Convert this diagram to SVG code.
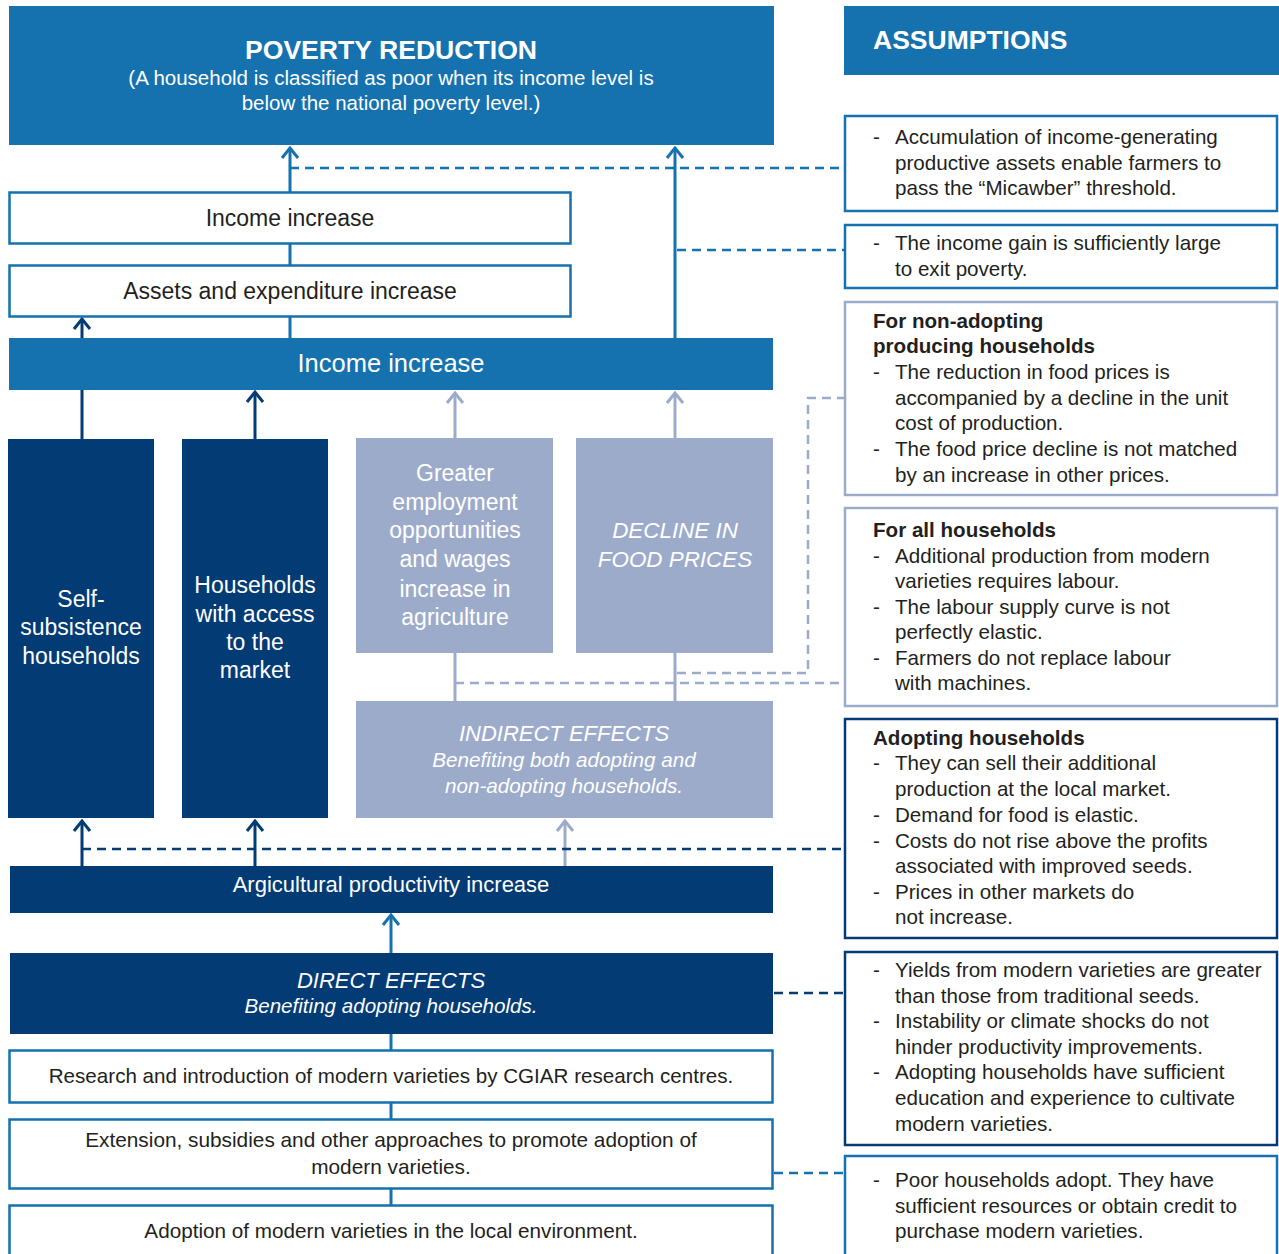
<svg xmlns="http://www.w3.org/2000/svg" width="1279" height="1254" viewBox="0 0 1279 1254">
<defs>
<style>
text{font-family:"Liberation Sans",Arial,sans-serif;}
.c{text-anchor:middle;}
.w{fill:#ffffff;}
.d{fill:#231f20;}
.it{font-style:italic;}
.b{font-weight:bold;}
.mb{fill:#1572ae;}
.nv{fill:#033b74;}
.lt{fill:#9dabcb;}
.wb{fill:#ffffff;stroke:#1572ae;stroke-width:2.5;}
.as{font-size:20.6px;fill:#231f20;}
.ln{fill:none;stroke-width:3;}
.dash{fill:none;stroke-width:2.5;stroke-dasharray:9 6;}
.smb{stroke:#1572ae;}
.snv{stroke:#033b74;}
.slt{stroke:#9dabcb;}
</style>
<marker id="amb" viewBox="-12 -10 14 20" refX="0" refY="0" markerWidth="14" markerHeight="20" markerUnits="userSpaceOnUse" orient="auto"><path d="M-10,-8 L0,0 L-10,8" fill="none" stroke="#1572ae" stroke-width="3"/></marker>
<marker id="anv" viewBox="-12 -10 14 20" refX="0" refY="0" markerWidth="14" markerHeight="20" markerUnits="userSpaceOnUse" orient="auto"><path d="M-10,-8 L0,0 L-10,8" fill="none" stroke="#033b74" stroke-width="3"/></marker>
<marker id="alt" viewBox="-12 -10 14 20" refX="0" refY="0" markerWidth="14" markerHeight="20" markerUnits="userSpaceOnUse" orient="auto"><path d="M-10,-8 L0,0 L-10,8" fill="none" stroke="#9dabcb" stroke-width="3"/></marker>
</defs>
<rect width="1279" height="1254" fill="#ffffff"/>

<g id="connectors">
<line class="ln smb" x1="290" y1="192" x2="290" y2="148" marker-end="url(#amb)"/>
<line class="ln smb" x1="290" y1="244" x2="290" y2="266"/>
<line class="ln smb" x1="290" y1="317" x2="290" y2="338"/>
<line class="ln smb" x1="675" y1="338" x2="675" y2="148" marker-end="url(#amb)"/>
<path class="dash smb" d="M290,168 H844"/>
<path class="dash smb" d="M677,250 H844"/>
<line class="ln snv" x1="82" y1="439" x2="82" y2="319" marker-end="url(#anv)"/>
<line class="ln snv" x1="255" y1="439" x2="255" y2="392" marker-end="url(#anv)"/>
<line class="ln slt" x1="455" y1="438" x2="455" y2="393" marker-end="url(#alt)"/>
<line class="ln slt" x1="675" y1="438" x2="675" y2="393" marker-end="url(#alt)"/>
<line class="ln slt" x1="455" y1="653" x2="455" y2="701"/>
<line class="ln slt" x1="675" y1="653" x2="675" y2="701"/>
<path class="dash slt" d="M677,673 H808 V398 H844"/>
<path class="dash slt" d="M455,683 H844"/>
<line class="ln snv" x1="82" y1="866" x2="82" y2="821" marker-end="url(#anv)"/>
<line class="ln snv" x1="255" y1="866" x2="255" y2="821" marker-end="url(#anv)"/>
<line class="ln slt" x1="565" y1="866" x2="565" y2="821" marker-end="url(#alt)"/>
<path class="dash snv" d="M82,849 H844"/>
<line class="ln smb" x1="391" y1="953" x2="391" y2="915" marker-end="url(#amb)"/>
<path class="dash snv" d="M774,993 H844"/>
<line class="ln smb" x1="391" y1="1033" x2="391" y2="1050"/>
<line class="ln smb" x1="391" y1="1102" x2="391" y2="1119"/>
<line class="ln smb" x1="391" y1="1188" x2="391" y2="1205"/>
<path class="dash smb" d="M774,1173 H844"/>
</g>

<g id="poverty-reduction">
<rect class="mb" x="9" y="6" width="765" height="139"/>
<text class="c w b" x="391" y="59" font-size="26.6">POVERTY REDUCTION</text>
<text class="c w" x="391" y="85" font-size="20.5">(A household is classified as poor when its income level is</text>
<text class="c w" x="391" y="110" font-size="20.5">below the national poverty level.)</text>
</g>

<g id="income-increase-1">
<rect class="wb" x="9.5" y="192.5" width="561" height="51"/>
<text class="c d" x="290" y="226" font-size="23">Income increase</text>
</g>

<g id="assets-expenditure">
<rect class="wb" x="9.5" y="265.5" width="561" height="51"/>
<text class="c d" x="290" y="299" font-size="23">Assets and expenditure increase</text>
</g>

<g id="income-increase-2">
<rect class="mb" x="9" y="338" width="764" height="52"/>
<text class="c w" x="391" y="372" font-size="25.5">Income increase</text>
</g>

<g id="self-subsistence">
<rect class="nv" x="8" y="439" width="146" height="379"/>
<text class="c w" x="81" y="607" font-size="23">Self-</text>
<text class="c w" x="81" y="635" font-size="23">subsistence</text>
<text class="c w" x="81" y="664" font-size="23">households</text>
</g>

<g id="market-access">
<rect class="nv" x="182" y="439" width="146" height="379"/>
<text class="c w" x="255" y="593" font-size="23">Households</text>
<text class="c w" x="255" y="622" font-size="23">with access</text>
<text class="c w" x="255" y="650" font-size="23">to the</text>
<text class="c w" x="255" y="678" font-size="23">market</text>
</g>

<g id="employment">
<rect class="lt" x="356" y="438" width="197" height="215"/>
<text class="c w" x="455" y="481" font-size="23">Greater</text>
<text class="c w" x="455" y="510" font-size="23">employment</text>
<text class="c w" x="455" y="538" font-size="23">opportunities</text>
<text class="c w" x="455" y="567" font-size="23">and wages</text>
<text class="c w" x="455" y="597" font-size="23">increase in</text>
<text class="c w" x="455" y="625" font-size="23">agriculture</text>
</g>

<g id="food-prices">
<rect class="lt" x="576" y="438" width="197" height="215"/>
<text class="c w it" x="675" y="538" font-size="22.4">DECLINE IN</text>
<text class="c w it" x="675" y="567" font-size="22.4">FOOD PRICES</text>
</g>

<g id="indirect-effects">
<rect class="lt" x="356" y="701" width="417" height="117"/>
<text class="c w it" x="564" y="741" font-size="22">INDIRECT EFFECTS</text>
<text class="c w it" x="564" y="767" font-size="20.7">Benefiting both adopting and</text>
<text class="c w it" x="564" y="793" font-size="20.7">non-adopting households.</text>
</g>

<g id="productivity">
<rect class="nv" x="10" y="866" width="763" height="47"/>
<text class="c w" x="391" y="892" font-size="22">Argicultural productivity increase</text>
</g>

<g id="direct-effects">
<rect class="nv" x="10" y="953" width="763" height="81"/>
<text class="c w it" x="391" y="988" font-size="22">DIRECT EFFECTS</text>
<text class="c w it" x="391" y="1013" font-size="20.6">Benefiting adopting households.</text>
</g>

<g id="research">
<rect class="wb" x="9.5" y="1050.5" width="763" height="52"/>
<text class="c d" x="391" y="1083" font-size="20.6">Research and introduction of modern varieties by CGIAR research centres.</text>
</g>

<g id="extension">
<rect class="wb" x="9.5" y="1119.5" width="763" height="69"/>
<text class="c d" x="391" y="1147" font-size="20.8">Extension, subsidies and other approaches to promote adoption of</text>
<text class="c d" x="391" y="1174" font-size="20.8">modern varieties.</text>
</g>

<g id="adoption">
<rect class="wb" x="9.5" y="1205.5" width="763" height="70"/>
<text class="c d" x="391" y="1238" font-size="20.7">Adoption of modern varieties in the local environment.</text>
</g>

<g id="assumptions-header">
<rect class="mb" x="844" y="6" width="435" height="69"/>
<text class="w b" x="873" y="49" font-size="26.5">ASSUMPTIONS</text>
</g>

<g id="assumption-1">
<rect x="845" y="116" width="432" height="95" fill="#fff" stroke="#1572ae" stroke-width="2.5"/>
<text class="as"><tspan x="873" y="144">-</tspan><tspan x="895" y="144">Accumulation of income-generating</tspan><tspan x="895" y="170">productive assets enable farmers to</tspan><tspan x="895" y="195">pass the “Micawber” threshold.</tspan></text>
</g>

<g id="assumption-2">
<rect x="845" y="225" width="432" height="63" fill="#fff" stroke="#1572ae" stroke-width="2.5"/>
<text class="as"><tspan x="873" y="250">-</tspan><tspan x="895" y="250">The income gain is sufficiently large</tspan><tspan x="895" y="276">to exit poverty.</tspan></text>
</g>

<g id="assumption-3">
<rect x="845" y="302" width="432" height="193" fill="#fff" stroke="#9dabcb" stroke-width="2.5"/>
<text class="as b" x="873" y="328">For non-adopting</text>
<text class="as b" x="873" y="353">producing households</text>
<text class="as"><tspan x="873" y="379">-</tspan><tspan x="895" y="379">The reduction in food prices is</tspan><tspan x="895" y="405">accompanied by a decline in the unit</tspan><tspan x="895" y="430">cost of production.</tspan><tspan x="873" y="456">-</tspan><tspan x="895" y="456">The food price decline is not matched</tspan><tspan x="895" y="482">by an increase in other prices.</tspan></text>
</g>

<g id="assumption-4">
<rect x="845" y="508" width="432" height="198" fill="#fff" stroke="#9dabcb" stroke-width="2.5"/>
<text class="as b" x="873" y="537">For all households</text>
<text class="as"><tspan x="873" y="563">-</tspan><tspan x="895" y="563">Additional production from modern</tspan><tspan x="895" y="588">varieties requires labour.</tspan><tspan x="873" y="614">-</tspan><tspan x="895" y="614">The labour supply curve is not</tspan><tspan x="895" y="639">perfectly elastic.</tspan><tspan x="873" y="665">-</tspan><tspan x="895" y="665">Farmers do not replace labour</tspan><tspan x="895" y="690">with machines.</tspan></text>
</g>

<g id="assumption-5">
<rect x="845" y="719" width="432" height="219" fill="#fff" stroke="#033b74" stroke-width="2.5"/>
<text class="as b" x="873" y="745">Adopting households</text>
<text class="as"><tspan x="873" y="770">-</tspan><tspan x="895" y="770">They can sell their additional</tspan><tspan x="895" y="796">production at the local market.</tspan><tspan x="873" y="822">-</tspan><tspan x="895" y="822">Demand for food is elastic.</tspan><tspan x="873" y="848">-</tspan><tspan x="895" y="848">Costs do not rise above the profits</tspan><tspan x="895" y="873">associated with improved seeds.</tspan><tspan x="873" y="899">-</tspan><tspan x="895" y="899">Prices in other markets do</tspan><tspan x="895" y="924">not increase.</tspan></text>
</g>

<g id="assumption-6">
<rect x="845" y="952" width="432" height="193" fill="#fff" stroke="#033b74" stroke-width="2.5"/>
<text class="as"><tspan x="873" y="977">-</tspan><tspan x="895" y="977">Yields from modern varieties are greater</tspan><tspan x="895" y="1003">than those from traditional seeds.</tspan><tspan x="873" y="1028">-</tspan><tspan x="895" y="1028">Instability or climate shocks do not</tspan><tspan x="895" y="1054">hinder productivity improvements.</tspan><tspan x="873" y="1079">-</tspan><tspan x="895" y="1079">Adopting households have sufficient</tspan><tspan x="895" y="1105">education and experience to cultivate</tspan><tspan x="895" y="1131">modern varieties.</tspan></text>
</g>

<g id="assumption-7">
<rect x="845" y="1156" width="432" height="120" fill="#fff" stroke="#1572ae" stroke-width="2.5"/>
<text class="as"><tspan x="873" y="1187">-</tspan><tspan x="895" y="1187">Poor households adopt. They have</tspan><tspan x="895" y="1213">sufficient resources or obtain credit to</tspan><tspan x="895" y="1238">purchase modern varieties.</tspan></text>
</g>
</svg>
